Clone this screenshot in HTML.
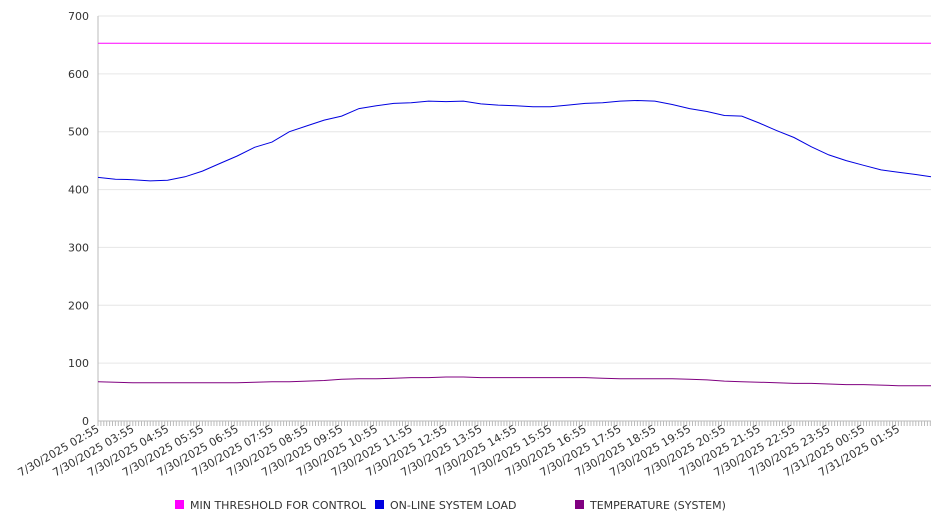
<!DOCTYPE html>
<html><head><meta charset="utf-8"><style>
body{margin:0;background:#fff;}
svg{display:block;font-family:"DejaVu Sans","Liberation Sans",sans-serif;}
</style></head><body>
<svg id="chart" width="946" height="526"></svg>
<script>
const tickLabels=["7/30/2025 02:55","7/30/2025 03:55","7/30/2025 04:55","7/30/2025 05:55","7/30/2025 06:55","7/30/2025 07:55","7/30/2025 08:55","7/30/2025 09:55","7/30/2025 10:55","7/30/2025 11:55","7/30/2025 12:55","7/30/2025 13:55","7/30/2025 14:55","7/30/2025 15:55","7/30/2025 16:55","7/30/2025 17:55","7/30/2025 18:55","7/30/2025 19:55","7/30/2025 20:55","7/30/2025 21:55","7/30/2025 22:55","7/30/2025 23:55","7/31/2025 00:55","7/31/2025 01:55"];
const yTicks=[0,100,200,300,400,500,600,700];
// half-hour samples starting 02:55
const loadValues=[421,418,417,415,416,422,432,445,458,473,482,500,510,520,527,540,545,549,550,553,552,553,548,546,545,543,543,546,549,550,553,554,553,547,540,535,528,527,515,502,490,474,460,450,442,434,430,426,422];
const tempValues=[68,67,66,66,66,66,66,66,66,67,68,68,69,70,72,73,73,74,75,75,76,76,75,75,75,75,75,75,75,74,73,73,73,73,72,71,69,68,67,66,65,65,64,63,63,62,61,61,61];
const thresholdValues=[653];
const seriesNames=["MIN THRESHOLD FOR CONTROL","ON-LINE SYSTEM LOAD","TEMPERATURE (SYSTEM)"];
const seriesColors=["#ff00ff","#0000e0","#800080"];

const NS="http://www.w3.org/2000/svg";
const svg=document.getElementById('chart');
const X0=98,X1=931,Y0=421,Y1=16,YMAX=700;
const hourPx=34.8;
const y=v=>Y0-(v/YMAX)*(Y0-Y1);
const xHalf=i=>Math.min(X0+i*hourPx/2,X1);
function mk(t,a,p){const e=document.createElementNS(NS,t);for(const k in a)e.setAttribute(k,a[k]);(p||svg).appendChild(e);return e;}

yTicks.forEach(v=>{
  const g=mk('line',{x1:X0,x2:X1,y1:y(v),y2:y(v),stroke:v===0?'#bbb':'#e6e6e6','stroke-width':1});
  
  
  const t=mk('text',{x:X0-9,y:y(v)+4,'text-anchor':'end','font-size':11,fill:'#333'});
  t.textContent=v;
  
  
});
const ax=mk('line',{x1:X0,x2:X0,y1:Y1,y2:Y0,stroke:'#bbb'});


// minor ticks every 5 min
for(let xx=X0;xx<=X1;xx+=hourPx/12){
  const m=mk('line',{x1:xx,x2:xx,y1:Y0,y2:Y0+5,stroke:'#bbb'});
  
  
}
tickLabels.forEach((l,i)=>{
  const xx=X0+i*hourPx;
  const t=mk('text',{transform:`translate(${xx+2},${Y0+10}) rotate(-30)`,'text-anchor':'end','font-size':11,fill:'#333'});
  t.textContent=l;
  
  
});
function line(vals,color,name){
  const pts=vals.map((v,i)=>xHalf(i).toFixed(1)+','+y(v).toFixed(1)).join(' ');
  const p=mk('polyline',{points:pts,fill:'none',stroke:color,'stroke-width':1});
  
  
}
const th=mk('line',{x1:X0,x2:X1,y1:y(thresholdValues[0]),y2:y(thresholdValues[0]),stroke:seriesColors[0],'stroke-width':1});


line(loadValues,seriesColors[1],'load-line');
line(tempValues,seriesColors[2],'temperature-line');

const lx=[175,375,575];
seriesNames.forEach((n,i)=>{
  const g=mk('g',{});
  
  
  mk('rect',{x:lx[i],y:500,width:9,height:9,fill:seriesColors[i]},g);
  const t=mk('text',{x:lx[i]+15,y:509,'font-size':11,fill:'#333'},g);
  t.textContent=n;
});
</script>
</body></html>
